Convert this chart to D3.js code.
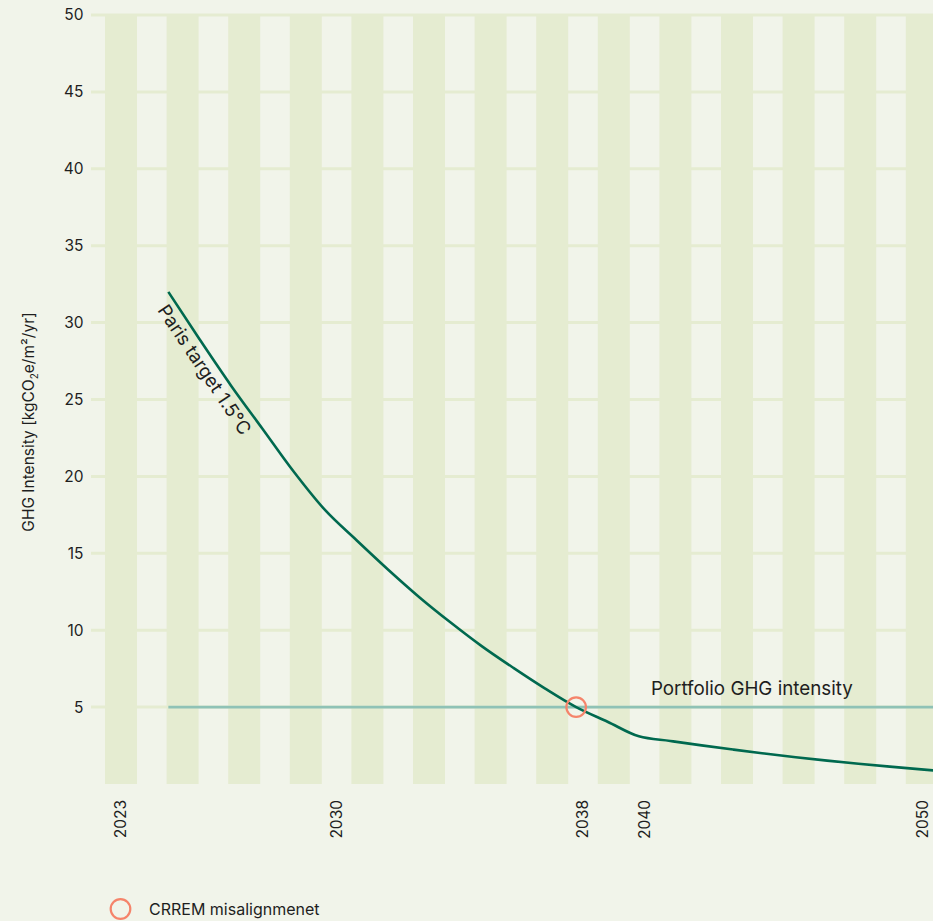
<!DOCTYPE html>
<html>
<head>
<meta charset="utf-8">
<script src="https://cdn.jsdelivr.net/npm/d3@7"></script>
<style>
  html, body { margin: 0; padding: 0; background: #f1f4ea; overflow: hidden; }
  svg { display: block; font-family: Inter, "Noto Sans", sans-serif; }
</style>
</head>
<body>
<svg id="chart" width="933" height="921"></svg>
<script>
// ---- data ----
const bandYears = d3.range(2023, 2051);              // one background band per year
const tickYears = [2023, 2030, 2038, 2040, 2050];    // labelled years on the x axis
const yTicks = [5, 10, 15, 20, 25, 30, 35, 40, 45, 50];
const pathwayYears = d3.range(2025, 2051);
const parisPathway = [32.0, 28.9, 25.9, 23.1, 20.3, 17.8, 15.85, 13.95, 12.15, 10.5,
                      8.95, 7.55, 6.22, 5.0, 4.05, 3.1, 2.80, 2.51, 2.24, 1.98,
                      1.74, 1.52, 1.32, 1.13, 0.95, 0.78];
const portfolioIntensity = 5;
const misalignmentYear = 2038;

// ---- layout ----
const W = 933, H = 921;
const plotTop = 15, plotBottom = 784, plotLeft = 105.6, bandsRight = 968;
const colors = {
  band: "#e5ecd1",
  grid: "#e5ecd1",
  paris: "#00694f",
  portfolio: "#8fc2b6",
  misalign: "#f5846b",
  text: "#1e1e1e"
};

const svg = d3.select("#chart");

const xBand = d3.scaleBand().domain(bandYears).range([plotLeft, bandsRight]).paddingInner(0);
const bw = xBand.bandwidth();
const x = d3.scaleLinear()
  .domain([2023, 2050])
  .range([xBand(2023), xBand(2050) + bw / 2]);
const y = d3.scaleLinear().domain([0, 50]).range([plotBottom, plotTop]);

// horizontal grid
svg.append("g").selectAll("line").data(yTicks).join("line")
  .attr("x1", 91).attr("x2", W)
  .attr("y1", d => y(d)).attr("y2", d => y(d))
  .attr("stroke", colors.grid).attr("stroke-width", 3);

// alternating year bands
svg.append("g").selectAll("rect")
  .data(bandYears.filter((d, i) => i % 2 === 0)).join("rect")
  .attr("x", d => xBand(d) - 0.6)
  .attr("width", bw + 1.2)
  .attr("y", plotTop)
  .attr("height", plotBottom - plotTop)
  .attr("fill", colors.band);

// y tick labels
svg.append("g").selectAll("text").data(yTicks).join("text")
  .attr("x", 83.5).attr("y", d => y(d)).attr("dy", "0.35em")
  .attr("text-anchor", "end")
  .attr("font-size", 15.5).attr("fill", colors.text)
  .text(d => d);

// y axis title
const yTitle = svg.append("text")
  .attr("transform", "translate(34,422) rotate(-90)")
  .attr("text-anchor", "middle")
  .attr("font-size", 15.5).attr("fill", colors.text);
yTitle.append("tspan").text("GHG Intensity [kgCO");
yTitle.append("tspan").attr("font-size", 10).attr("dy", 4).text("2");
yTitle.append("tspan").attr("dy", -4).text("e/m²/yr]");

// x tick labels (kept inside the visible width)
svg.append("g").selectAll("text").data(tickYears).join("text")
  .attr("transform", d => {
    const cx = Math.min(xBand(d) + bw / 2, W - 10);
    return `translate(${cx},800) rotate(-90)`;
  })
  .attr("dy", "0.35em")
  .attr("text-anchor", "end")
  .attr("font-size", 15.5).attr("fill", colors.text)
  .text(d => d);

// portfolio intensity line
svg.append("line")
  .attr("x1", x(2025)).attr("x2", x(2050))
  .attr("y1", y(portfolioIntensity)).attr("y2", y(portfolioIntensity))
  .attr("stroke", colors.portfolio).attr("stroke-width", 2.6);

svg.append("text")
  .attr("x", x(2040) + 12).attr("y", y(portfolioIntensity) - 12)
  .attr("font-size", 18.8).attr("fill", colors.text)
  .text("Portfolio GHG intensity");

// Paris 1.5°C pathway
const pathData = pathwayYears.map((yr, i) => ({ yr, v: parisPathway[i] }));
svg.append("path")
  .datum(pathData)
  .attr("fill", "none")
  .attr("stroke", colors.paris)
  .attr("stroke-width", 2.6)
  .attr("d", d3.line().x(d => x(d.yr)).y(d => y(d.v)).curve(d3.curveMonotoneX));

// pathway label, laid along the start of the curve on its lower-left side
{
  const p0 = [x(2025), y(parisPathway[0])];
  const p1 = [x(2027), y(parisPathway[2])];
  const ang = Math.atan2(p1[1] - p0[1], p1[0] - p0[0]);
  const mid = [x(2026.5), y((parisPathway[1] + parisPathway[2]) / 2)];
  const off = 19.5;
  const nx = -Math.sin(ang), ny = Math.cos(ang);
  svg.append("text")
    .attr("transform", `translate(${mid[0] + nx * off},${mid[1] + ny * off}) rotate(${ang * 180 / Math.PI})`)
    .attr("text-anchor", "middle")
    .attr("font-size", 18.6).attr("fill", colors.text)
    .text("Paris target 1.5°C");
}

// misalignment marker
svg.append("circle")
  .attr("cx", x(misalignmentYear)).attr("cy", y(portfolioIntensity))
  .attr("r", 9.8)
  .attr("fill", "none").attr("stroke", colors.misalign).attr("stroke-width", 2.2);

// legend
svg.append("circle")
  .attr("cx", 120.5).attr("cy", 909).attr("r", 9.8)
  .attr("fill", "none").attr("stroke", colors.misalign).attr("stroke-width", 2.2);
svg.append("text")
  .attr("x", 149).attr("y", 909).attr("dy", "0.35em")
  .attr("font-size", 16).attr("fill", colors.text)
  .text("CRREM misalignmenet");
</script>
</body>
</html>
